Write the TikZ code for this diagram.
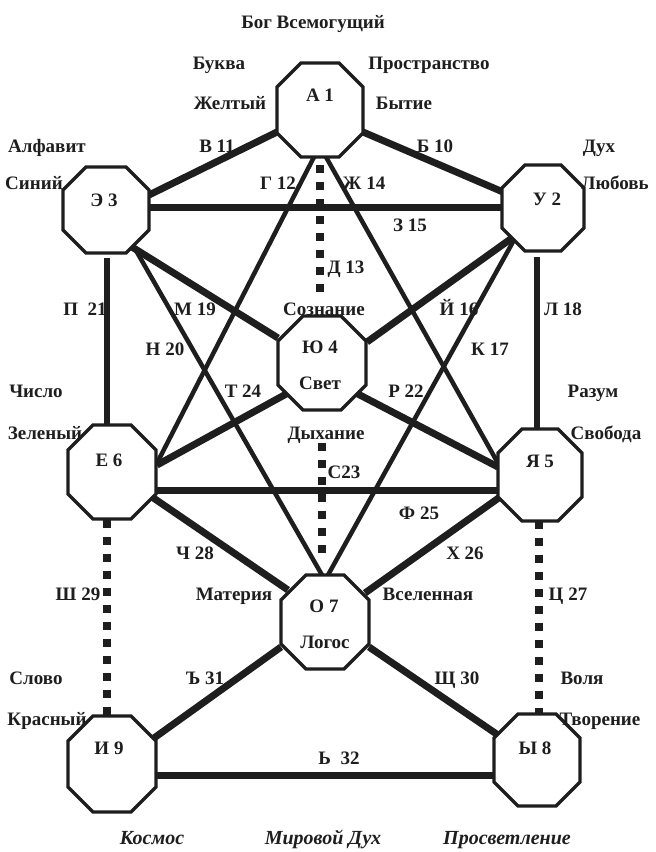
\documentclass[tikz,border=0pt]{standalone}
\usepackage{fontspec}
\setmainfont{Liberation Serif}
\usetikzlibrary{calc}
\definecolor{ink}{HTML}{1E1E1E}
\newcommand\octo[2]{\draw[octline] ([xshift=#2]#1.north west) -- ([xshift=-#2]#1.north east) -- ([yshift=-#2]#1.north east) -- ([yshift=#2]#1.south east) -- ([xshift=-#2]#1.south east) -- ([xshift=#2]#1.south west) -- ([yshift=#2]#1.south west) -- ([yshift=-#2]#1.north west) -- cycle;}
\tikzset{
 vert/.style={draw=none, rectangle, inner sep=0pt, outer sep=0pt},
 octline/.style={draw=ink, line width=3.3pt, fill=white, line join=miter},
 lab/.style={font=\fontsize{19}{19}\selectfont\bfseries, text=ink, inner sep=0pt, text height=12.6pt, text depth=0pt},
 ilab/.style={lab, font=\fontsize{20}{20}\selectfont\bfseries\itshape},
 thickline/.style={draw=ink, line width=7pt},
 midline/.style={draw=ink, line width=5.5pt},
 thinline/.style={draw=ink, line width=4.5pt},
 dotline/.style={draw=ink, line width=7.5pt, dash pattern=on 7.5pt off 9.5pt},
}
\begin{document}
\begin{tikzpicture}[x=1pt, y=-1pt]
\useasboundingbox[fill=white] (0,0) rectangle (656,852);
% vertices
\node[vert, minimum width=86pt, minimum height=94pt] (A1) at (320,110) {};
\node[vert, minimum width=86pt, minimum height=86pt] (E3) at (106,210) {};
\node[vert, minimum width=82pt, minimum height=86pt] (U2) at (543,208) {};
\node[vert, minimum width=88pt, minimum height=94pt] (Yu4) at (322,363) {};
\node[vert, minimum width=88pt, minimum height=94pt] (E6) at (112,472) {};
\node[vert, minimum width=84pt, minimum height=92pt] (Ya5) at (540,475) {};
\node[vert, minimum width=88pt, minimum height=94pt] (O7) at (325,622) {};
\node[vert, minimum width=88pt, minimum height=96pt] (I9) at (112,764) {};
\node[vert, minimum width=86pt, minimum height=92pt] (Y8) at (537,760) {};
% connectors
\draw[thickline] ($(A1)+(-43,22)$) -- ($(E3)+(43,-15)$); % В11
\draw[thickline] ($(A1)+(43,22)$) -- ($(U2)+(-40,-16)$); % Б10
\draw[thickline] ($(E3)+(43,-3)$) -- ($(U2)+(-41,-1)$); % З15
\draw[thinline] ($(A1)+(-6,47)$) -- ($(E6)+(44,-7)$); % Г12
\draw[thinline] ($(A1)+(6,47)$) -- ($(Ya5)+(-41,-10)$); % Ж14
\draw[dotline] ($(A1)+(0,55)$) -- ($(Yu4)+(-2,-65)$); % Д13
\draw[thickline] ($(E3)+(26,37)$) -- ($(Yu4)+(-44,-25)$); % М19
\draw[thinline] ($(E3)+(28,37)$) -- ($(O7)+(-3,-47)$); % Н20
\draw[thickline] ($(U2)+(-31,30)$) -- ($(Yu4)+(45,-21)$); % Й16
\draw[thinline] ($(U2)+(-29,32)$) -- ($(O7)+(3,-47)$); % К17
\draw[midline] ($(E3)+(1,48)$) -- ($(E6)+(-5,-46)$); % П21
\draw[midline] ($(U2)+(-6,49)$) -- ($(Ya5)+(-3,-46)$); % Л18
\draw[thickline] ($(Yu4)+(-34,30)$) -- ($(E6)+(45,-7)$); % Т24
\draw[thickline] ($(Yu4)+(34,30)$) -- ($(Ya5)+(-42,-8)$); % Р22
\draw[thickline] ($(E6)+(45,18)$) -- ($(Ya5)+(-42,15)$); % Ф25
\draw[dotline] ($(Yu4)+(0,80)$) -- ($(O7)+(-3,-67)$); % С23
\draw[thickline] ($(E6)+(40,25)$) -- ($(O7)+(-37,-32)$); % Ч28
\draw[thickline] ($(Ya5)+(-40,22)$) -- ($(O7)+(40,-29)$); % Х26
\draw[dotline] ($(E6)+(-5,48)$) -- ($(I9)+(-5,-48)$); % Ш29
\draw[dotline] ($(Ya5)+(-1,46)$) -- ($(Y8)+(2,-46)$); % Ц27
\draw[thickline] ($(O7)+(-44,25)$) -- ($(I9)+(42,-26)$); % Ъ31
\draw[thickline] ($(O7)+(44,25)$) -- ($(Y8)+(-39,-25)$); % Щ30
\draw[thickline] ($(I9)+(45,11)$) -- ($(Y8)+(-43,15)$); % Ь32
% octagons
\octo{A1}{24}
\octo{E3}{23}
\octo{U2}{23}
\octo{Yu4}{25}
\octo{E6}{25}
\octo{Ya5}{24}
\octo{O7}{25}
\octo{I9}{25}
\octo{Y8}{24}
% labels inside
\node[lab] (tA1) at (320,95) {А 1};
\node[lab] (tE3) at (104,200) {Э 3};
\node[lab] (tU2) at (547,199) {У 2};
\node[lab] (tYu4) at (320,347) {Ю 4};
\node[lab] (tYu4b) at (320,383) {Свет};
\node[lab] (tE6) at (109,460) {Е 6};
\node[lab] (tYa5) at (540,461) {Я 5};
\node[lab] (tO7) at (324,606) {О 7};
\node[lab] (tO7b) at (325,642) {Логос};
\node[lab] (tI9) at (109,748) {И 9};
\node[lab] (tY8) at (535,748) {Ы 8};
% outer labels
\node[lab] (title) at (313,22) {Бог Всемогущий};
\node[lab] (l1) at (219,63) {Буква};
\node[lab] (l2) at (429,63) {Пространство};
\node[lab] (l3) at (230,103) {Желтый};
\node[lab] (l4) at (404,103) {Бытие};
\node[lab] (l5) at (47,146) {Алфавит};
\node[lab] (l6) at (217,146) {В 11};
\node[lab] (l7) at (435,146) {Б 10};
\node[lab] (l8) at (599,146) {Дух};
\node[lab] (l9) at (34,183) {Синий};
\node[lab] (l10) at (278,183) {Г 12};
\node[lab] (l11) at (364,183) {Ж 14};
\node[lab] (l12) at (615,183) {Любовь};
\node[lab] (l13) at (410,225) {З 15};
\node[lab] (l14) at (346,267) {Д 13};
\node[lab] (l15) at (85,309) {П\ \ 21};
\node[lab] (l16) at (195,309) {М 19};
\node[lab] (l17) at (324,309) {Сознание};
\node[lab] (l18) at (459,309) {Й 16};
\node[lab] (l19) at (563,309) {Л 18};
\node[lab] (l20) at (165,349) {Н 20};
\node[lab] (l21) at (490,349) {К 17};
\node[lab] (l22) at (36,391) {Число};
\node[lab] (l23) at (243,391) {Т 24};
\node[lab] (l24) at (406,391) {Р 22};
\node[lab] (l25) at (593,391) {Разум};
\node[lab] (l26) at (45,433) {Зеленый};
\node[lab] (l27) at (326,433) {Дыхание};
\node[lab] (l28) at (606,433) {Свобода};
\node[lab] (l29) at (344,472) {С23};
\node[lab] (l30) at (419,513) {Ф 25};
\node[lab] (l31) at (195,553) {Ч 28};
\node[lab] (l32) at (465,553) {Х 26};
\node[lab] (l33) at (78,594) {Ш 29};
\node[lab] (l34) at (234,594) {Материя};
\node[lab] (l35) at (428,594) {Вселенная};
\node[lab] (l36) at (568,594) {Ц 27};
\node[lab] (l37) at (36,678) {Слово};
\node[lab] (l38) at (205,678) {Ъ 31};
\node[lab] (l39) at (457,678) {Щ 30};
\node[lab] (l40) at (582,678) {Воля};
\node[lab] (l41) at (47,719) {Красный};
\node[lab] (l42) at (600,719) {Творение};
\node[lab] (l43) at (339,758) {Ь\ \ 32};
\node[ilab] (b1) at (152,838) {Космос};
\node[ilab] (b2) at (323,838) {Мировой Дух};
\node[ilab] (b3) at (507,838) {Просветление};
\end{tikzpicture}
\end{document}
